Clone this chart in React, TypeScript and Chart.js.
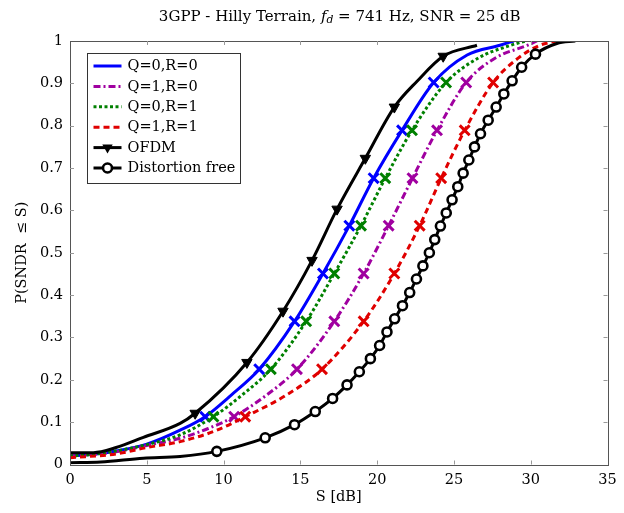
import { useEffect, useRef } from "react";
import { Chart, registerables } from "chart.js";

Chart.register(...registerables);

// ---------- data ----------
const xTicks = [0, 5, 10, 15, 20, 25, 30, 35];
const yTicks = [0, 0.1, 0.2, 0.3, 0.4, 0.5, 0.6, 0.7, 0.8, 0.9, 1];
const yTickLabels = ["0", "0.1", "0.2", "0.3", "0.4", "0.5", "0.6", "0.7", "0.8", "0.9", "1"];

const crossLevels = [0.113, 0.225, 0.338, 0.451, 0.564, 0.676, 0.789, 0.902];
const triangleLevels = [0.121, 0.241, 0.362, 0.482, 0.603, 0.723, 0.844, 0.964];
const circleLevels = [
  0.031, 0.063, 0.094, 0.125, 0.156, 0.188, 0.219, 0.25, 0.281, 0.313, 0.344,
  0.375, 0.406, 0.438, 0.469, 0.5, 0.531, 0.563, 0.594, 0.625, 0.656, 0.688,
  0.719, 0.75, 0.781, 0.813, 0.844, 0.875, 0.906, 0.938, 0.969,
];

// Q=0,R=0
const q00MarkX = [8.8, 12.32, 14.62, 16.47, 18.19, 19.77, 21.62, 23.68];
const q00LineX = [0, 1.5, 3, 5, 7.17, 10.5, 25.86, 28.0, 28.9];
const q00LineY = [0.02, 0.024, 0.032, 0.048, 0.081, 0.164, 0.967, 0.99, 1.0];

// Q=1,R=0
const q10MarkX = [10.69, 14.78, 17.21, 19.12, 20.75, 22.3, 23.9, 25.8];
const q10LineX = [0, 3, 5, 7.17, 9, 12.8, 27.7, 29.8, 30.4];
const q10LineY = [0.02, 0.03, 0.045, 0.062, 0.085, 0.164, 0.96, 0.99, 1.0];

// Q=0,R=1
const q01MarkX = [9.34, 13.08, 15.38, 17.21, 18.95, 20.53, 22.27, 24.49];
const q01LineX = [0, 1.5, 3, 5, 7.17, 11.2, 26.6, 28.7, 29.66];
const q01LineY = [0.02, 0.024, 0.032, 0.047, 0.07, 0.164, 0.96, 0.99, 1.0];

// Q=1,R=1
const q11MarkX = [11.41, 16.41, 19.12, 21.12, 22.77, 24.17, 25.7, 27.55];
const q11LineX = [0, 3, 5, 7.17, 9.5, 14, 29.2, 30.6, 31.7];
const q11LineY = [0.016, 0.025, 0.04, 0.054, 0.08, 0.162, 0.96, 0.99, 1.0];

// OFDM
const ofdmMarkX = [8.15, 11.52, 13.87, 15.76, 17.39, 19.23, 21.12, 24.3];
const ofdmLineX = [0, 1.52, 3, 4.78, 7.17, 22.6, 26.5];
const ofdmLineY = [0.028, 0.028, 0.04, 0.064, 0.097, 0.905, 0.99];

// Distortion free
const dfMarkX = [
  9.56, 12.71, 14.62, 15.97, 17.1, 18.04, 18.84, 19.56, 20.16, 20.64, 21.14,
  21.65, 22.12, 22.56, 22.98, 23.4, 23.75, 24.12, 24.5, 24.88, 25.25, 25.6,
  25.97, 26.34, 26.73, 27.23, 27.75, 28.25, 28.79, 29.41, 30.31,
];
const dfLineX = [0, 2, 4.78, 7.17, 31.7, 32.9];
const dfLineY = [0.004, 0.006, 0.015, 0.019, 0.994, 1.0];

// ---------- styles ----------
const FONT = "'DejaVu Serif', serif";
const FS = 14.5;

type Series = {
  label: string;
  color: string;
  dash: number[];
  lineX: number[];
  lineY: number[];
  markX: number[];
  markY: number[];
  marker: "cross" | "triangle" | "circle";
};

const series: Series[] = [
  { label: "Q=0,R=0", color: "#0000ff", dash: [], lineX: q00LineX, lineY: q00LineY, markX: q00MarkX, markY: crossLevels, marker: "cross" },
  { label: "Q=1,R=0", color: "#a000a0", dash: [7, 3, 2, 3], lineX: q10LineX, lineY: q10LineY, markX: q10MarkX, markY: crossLevels, marker: "cross" },
  { label: "Q=0,R=1", color: "#008000", dash: [3, 2.5], lineX: q01LineX, lineY: q01LineY, markX: q01MarkX, markY: crossLevels, marker: "cross" },
  { label: "Q=1,R=1", color: "#e00000", dash: [6, 4], lineX: q11LineX, lineY: q11LineY, markX: q11MarkX, markY: crossLevels, marker: "cross" },
  { label: "OFDM", color: "#000000", dash: [], lineX: ofdmLineX, lineY: ofdmLineY, markX: ofdmMarkX, markY: triangleLevels, marker: "triangle" },
  { label: "Distortion free", color: "#000000", dash: [], lineX: dfLineX, lineY: dfLineY, markX: dfMarkX, markY: circleLevels, marker: "circle" },
];

function mergePoints(s: Series) {
  const pts = s.lineX.map((x, i) => ({ x, y: s.lineY[i] }));
  s.markX.forEach((x, i) => pts.push({ x, y: s.markY[i] }));
  pts.sort((a, b) => a.y - b.y || a.x - b.x);
  return pts;
}

function buildDatasets() {
  const ds: any[] = [];
  let order = 100;
  series.forEach((s) => {
    ds.push({
      label: s.label,
      data: mergePoints(s),
      borderColor: s.color,
      borderWidth: 3,
      borderDash: s.dash,
      borderCapStyle: "butt",
      borderJoinStyle: "round",
      pointRadius: 0,
      pointHoverRadius: 0,
      fill: false,
      cubicInterpolationMode: "monotone",
      order: order--,
    });
    const markData = s.markX.map((x, i) => ({ x, y: s.markY[i] }));
    const m: any = {
      label: s.label + " markers",
      data: markData,
      showLine: false,
      order: order--,
    };
    if (s.marker === "cross") {
      Object.assign(m, { pointStyle: "crossRot", pointRadius: 7, pointBorderWidth: 3, pointBorderColor: s.color, pointBackgroundColor: s.color });
    } else if (s.marker === "triangle") {
      Object.assign(m, { pointStyle: "triangle", pointRotation: 180, pointRadius: 6, pointBorderWidth: 1, pointBorderColor: "#000", pointBackgroundColor: "#000" });
    } else {
      Object.assign(m, { pointStyle: "circle", pointRadius: 4.5, pointBorderWidth: 2.6, pointBorderColor: "#000", pointBackgroundColor: "#fff" });
    }
    m.pointHoverRadius = m.pointRadius;
    ds.push(m);
  });
  return ds;
}

function drawLegendMarker(ctx: CanvasRenderingContext2D, s: Series, cx: number, cy: number) {
  ctx.save();
  ctx.setLineDash([]);
  if (s.marker === "triangle") {
    ctx.fillStyle = "#000";
    ctx.beginPath();
    ctx.moveTo(cx - 5.2, cy - 3);
    ctx.lineTo(cx + 5.2, cy - 3);
    ctx.lineTo(cx, cy + 6);
    ctx.closePath();
    ctx.fill();
  } else if (s.marker === "circle") {
    ctx.fillStyle = "#fff";
    ctx.strokeStyle = "#000";
    ctx.lineWidth = 2.6;
    ctx.beginPath();
    ctx.arc(cx, cy, 4.5, 0, Math.PI * 2);
    ctx.fill();
    ctx.stroke();
  }
  ctx.restore();
}

const decorPlugin = {
  id: "decor",
  afterDatasetsDraw(chart: any) {
    const { ctx, chartArea: a, scales } = chart;
    const xs = scales.x;
    const ys = scales.y;
    ctx.save();
    // frame
    ctx.strokeStyle = "#555";
    ctx.lineWidth = 1;
    ctx.setLineDash([]);
    ctx.strokeRect(Math.round(a.left) + 0.5, Math.round(a.top) + 0.5, Math.round(a.right - a.left), Math.round(a.bottom - a.top));
    // inner ticks
    ctx.strokeStyle = "#999";
    ctx.beginPath();
    xTicks.forEach((v) => {
      const px = Math.round(xs.getPixelForValue(v)) + 0.5;
      if (v !== xTicks[0] && v !== xTicks[xTicks.length - 1]) {
        ctx.moveTo(px, a.bottom);
        ctx.lineTo(px, a.bottom - 4);
        ctx.moveTo(px, a.top);
        ctx.lineTo(px, a.top + 4);
      }
    });
    yTicks.forEach((v) => {
      const py = Math.round(ys.getPixelForValue(v)) + 0.5;
      if (v !== yTicks[0] && v !== yTicks[yTicks.length - 1]) {
        ctx.moveTo(a.left, py);
        ctx.lineTo(a.left + 4, py);
        ctx.moveTo(a.right, py);
        ctx.lineTo(a.right - 4, py);
      }
    });
    ctx.stroke();

    // title with subscript
    const cx = (a.left + a.right) / 2 + 1;
    const ty = 17;
    const TFS = 15;
    const parts = [
      { t: "3GPP - Hilly Terrain, ", f: `${TFS}px ${FONT}`, dy: 0 },
      { t: "f", f: `italic ${TFS}px ${FONT}`, dy: 0 },
      { t: "d", f: `italic ${TFS * 0.72}px ${FONT}`, dy: 3 },
      { t: " = 741 Hz, SNR = 25 dB", f: `${TFS}px ${FONT}`, dy: 0 },
    ];
    let total = 0;
    parts.forEach((p) => {
      ctx.font = p.f;
      total += ctx.measureText(p.t).width;
    });
    let x = cx - total / 2;
    ctx.fillStyle = "#000";
    ctx.textBaseline = "middle";
    ctx.textAlign = "left";
    parts.forEach((p) => {
      ctx.font = p.f;
      ctx.fillText(p.t, x, ty + p.dy);
      x += ctx.measureText(p.t).width;
    });

    // axis titles
    ctx.font = `${FS}px ${FONT}`;
    ctx.textAlign = "center";
    ctx.fillText("S [dB]", (a.left + a.right) / 2, 497);
    ctx.save();
    ctx.translate(22, (a.top + a.bottom) / 2);
    ctx.rotate(-Math.PI / 2);
    ctx.fillText("P(SNDR  \u2264 S)", 0, 0);
    ctx.restore();

    // legend
    const bx = 87.5, by = 53.5, bw = 153, bh = 130;
    ctx.fillStyle = "#fff";
    ctx.fillRect(bx, by, bw, bh);
    ctx.strokeStyle = "#333";
    ctx.lineWidth = 1;
    ctx.strokeRect(bx, by, bw, bh);
    series.forEach((s, i) => {
      const ry = 66 + i * 20.4;
      ctx.save();
      ctx.strokeStyle = s.color;
      ctx.lineWidth = 3;
      ctx.lineCap = "butt";
      ctx.setLineDash(s.dash);
      ctx.beginPath();
      ctx.moveTo(93.5, ry);
      ctx.lineTo(121.5, ry);
      ctx.stroke();
      ctx.restore();
      drawLegendMarker(ctx, s, 107.5, ry);
      ctx.fillStyle = "#000";
      ctx.font = `${FS}px ${FONT}`;
      ctx.textAlign = "left";
      ctx.textBaseline = "middle";
      ctx.fillText(s.label, 127.5, ry + 0.5);
    });
    ctx.restore();
  },
};

export default function App() {
  const ref = useRef<HTMLCanvasElement>(null);
  useEffect(() => {
    const chart = new Chart(ref.current as HTMLCanvasElement, {
      type: "line",
      data: { datasets: buildDatasets() },
      options: {
        responsive: false,
        animation: false,
        events: [],
        layout: { padding: { left: 0, right: 16.5, top: 41, bottom: 0 } },
        plugins: { legend: { display: false }, tooltip: { enabled: false }, title: { display: false } },
        scales: {
          x: {
            type: "linear",
            min: 0,
            max: 35,
            grid: { display: false, drawTicks: false },
            border: { display: false },
            afterBuildTicks: (s: any) => {
              s.ticks = xTicks.map((v) => ({ value: v }));
            },
            afterFit: (s: any) => {
              s.height = 48.5;
            },
            ticks: {
              padding: 7,
              color: "#000",
              font: { family: FONT, size: FS },
              maxRotation: 0,
              autoSkip: false,
              callback: (v: any) => String(v),
            },
          },
          y: {
            type: "linear",
            min: 0,
            max: 1,
            grid: { display: false, drawTicks: false },
            border: { display: false },
            afterBuildTicks: (s: any) => {
              s.ticks = yTicks.map((v) => ({ value: v }));
            },
            afterFit: (s: any) => {
              s.width = 70;
            },
            ticks: {
              padding: 7,
              color: "#000",
              font: { family: FONT, size: FS },
              autoSkip: false,
              callback: (v: any) => yTickLabels[Math.round(Number(v) * 10)],
            },
          },
        },
      },
      plugins: [decorPlugin],
    } as any);
    return () => chart.destroy();
  }, []);
  return (
    <div style={{ position: "fixed", left: 0, top: 0, width: 624, height: 513, background: "#fff" }}>
      <canvas ref={ref} width={624} height={513} style={{ width: 624, height: 513, display: "block" }} />
    </div>
  );
}
